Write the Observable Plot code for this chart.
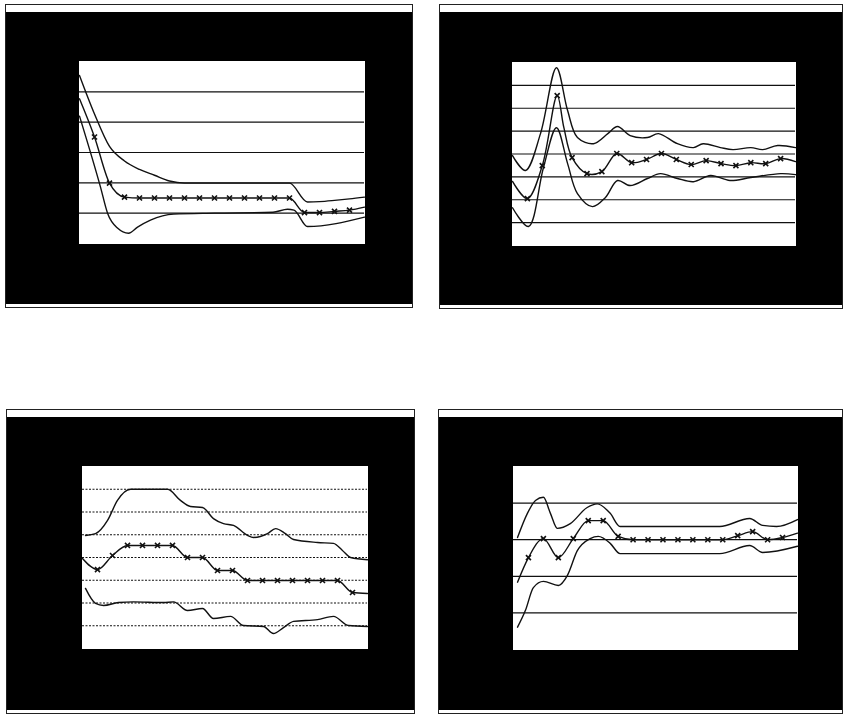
<!DOCTYPE html>
<html>
<head>
<meta charset="utf-8">
<script src="https://cdn.jsdelivr.net/npm/d3@7"></script>
<script src="https://cdn.jsdelivr.net/npm/@observablehq/plot@0.6"></script>
<style>
  html, body { margin: 0; padding: 0; background: #fff; width: 843px; height: 717px; overflow: hidden; }
  .panel { position: absolute; box-sizing: border-box; border: 1px solid #222; background: #fff; padding: 7px 0 3px 0; }
  .panel svg { display: block; }
</style>
</head>
<body>
<div id="root"></div>
<script>
// ---------- Data ----------
// x runs 0..19 in every panel; middle series carries "x" markers at whole steps.
const p1UpperX = [0, 1, 2, 3, 4, 5, 6, 7, 10, 13, 14, 15.2, 16, 17, 18, 19];
const p1UpperY = [5.54, 4.27, 3.2, 2.72, 2.44, 2.25, 2.06, 1.99, 1.99, 1.99, 1.99, 1.37, 1.38, 1.42, 1.47, 1.53];
const p1MidX = [0, 1, 2, 3, 4, 5, 6, 7, 8, 9, 10, 11, 12, 13, 14, 15, 16, 17, 18, 19];
const p1MidY = [4.77, 3.51, 1.99, 1.53, 1.5, 1.5, 1.5, 1.5, 1.5, 1.5, 1.5, 1.5, 1.5, 1.5, 1.5, 1.02, 1.02, 1.06, 1.1, 1.2];
const p1LowX = [0, 1.4, 1.87, 2.53, 3.27, 3.87, 4.73, 6.27, 9, 12.9, 13.87, 14.3, 15.2, 19];
const p1LowY = [4.2, 1.86, 1.0, 0.51, 0.34, 0.54, 0.77, 0.97, 1.0, 1.03, 1.13, 1.1, 0.56, 0.87];

const p2UpperX = [0, 0.87, 1.88, 2.95, 3.7, 4.36, 5.44, 6.4, 7.05, 7.9, 9.06, 9.8, 11.07, 12.15, 12.8, 13.96, 14.8, 16, 16.8, 17.8, 19];
const p2UpperY = [3.93, 3.28, 4.89, 7.77, 5.9, 4.72, 4.45, 4.89, 5.2, 4.8, 4.72, 4.89, 4.45, 4.28, 4.45, 4.28, 4.19, 4.28, 4.19, 4.37, 4.28];
const p2MidX = [0, 1, 2, 3, 3.45, 4, 5, 6, 7, 8, 9, 10, 11, 12, 13, 14, 15, 16, 17, 18, 19];
const p2MidY = [2.8, 2.05, 3.49, 6.55, 5.15, 3.84, 3.14, 3.23, 4.02, 3.62, 3.76, 4.02, 3.76, 3.54, 3.71, 3.58, 3.49, 3.62, 3.58, 3.8, 3.67];
const p2LowX = [0, 1.07, 2.08, 2.95, 3.7, 4.36, 5.37, 6.24, 7.05, 7.9, 9.06, 9.93, 11.07, 12.15, 13.3, 14.6, 16, 18, 19];
const p2LowY = [1.65, 0.83, 3.41, 5.15, 3.58, 2.27, 1.7, 2.1, 2.84, 2.62, 2.93, 3.14, 2.93, 2.79, 3.06, 2.84, 2.97, 3.14, 3.1];

const p3UpperX = [0.2, 0.87, 1.67, 2.33, 3.2, 5.67, 6.53, 7.2, 8, 8.73, 9.4, 10.07, 11, 11.4, 12.33, 12.87, 13.53, 14.07, 15.67, 16.73, 17.33, 17.87, 19];
const p3UpperY = [4.97, 5.05, 5.63, 6.51, 7.0, 7.0, 6.51, 6.24, 6.2, 5.71, 5.49, 5.41, 4.97, 4.88, 5.05, 5.27, 5.05, 4.79, 4.66, 4.62, 4.31, 4.0, 3.9];
const p3MidX = [0, 1, 2, 3, 4, 5, 6, 7, 8, 9, 10, 11, 12, 13, 14, 15, 16, 17, 18, 19];
const p3MidY = [3.96, 3.47, 4.09, 4.53, 4.53, 4.53, 4.53, 4.0, 4.0, 3.43, 3.43, 2.99, 2.99, 2.99, 2.99, 2.99, 2.99, 2.99, 2.46, 2.42];
const p3LowX = [0.2, 0.87, 1.4, 2.4, 3.4, 5.4, 6.07, 7, 8, 8.73, 9.87, 10.73, 12.07, 12.73, 13.4, 14.07, 15.67, 16.73, 17.73, 19];
const p3LowY = [2.64, 1.98, 1.89, 2.02, 2.05, 2.02, 2.05, 1.67, 1.76, 1.32, 1.41, 1.01, 0.97, 0.66, 0.92, 1.19, 1.27, 1.41, 1.01, 0.97];

const p4UpperX = [0.27, 0.93, 1.47, 2, 2.47, 2.93, 3.8, 4.93, 5.6, 6.47, 7.13, 13.8, 15.8, 16.67, 17.6, 19];
const p4UpperY = [3.06, 3.72, 4.07, 4.16, 3.72, 3.31, 3.44, 3.88, 3.98, 3.72, 3.36, 3.36, 3.58, 3.39, 3.36, 3.55];
const p4MidX = [0.27, 1, 2, 3, 4, 5, 6, 7, 8, 9, 10, 11, 12, 13, 14, 15, 16, 17, 18, 19];
const p4MidY = [1.84, 2.51, 3.03, 2.51, 3.03, 3.52, 3.52, 3.09, 3.0, 3.0, 3.0, 3.0, 3.0, 3.0, 3.0, 3.11, 3.22, 3.0, 3.06, 3.18];
const p4LowX = [0.27, 0.8, 1.33, 2, 3, 3.6, 4.27, 5.13, 5.67, 6.47, 7.13, 13.8, 15.8, 16.67, 19];
const p4LowY = [0.61, 1.07, 1.69, 1.86, 1.75, 2.02, 2.7, 3.03, 3.09, 2.9, 2.62, 2.62, 2.84, 2.65, 2.82];

const p1Grid = [1, 2, 3, 4, 5];
const p2Grid = [1, 2, 3, 4, 5, 6, 7];
const p3Grid = [1, 2, 3, 4, 5, 6, 7];
const p4Grid = [1, 2, 3, 4];

// ---------- Helpers ----------
const zip = (xs, ys) => xs.map((x, i) => ({x, y: ys[i]}));

function panel({box, area, yMax, grid, upper, mid, low, gridDash, curve}) {
  const div = document.createElement("div");
  div.className = "panel";
  div.style.left = box[0] + "px";
  div.style.top = box[1] + "px";
  div.style.width = (box[2] - box[0]) + "px";
  div.style.height = (box[3] - box[1]) + "px";
  const svgLeft = box[0] + 1, svgTop = box[1] + 1 + 7;
  const w = box[2] - box[0] - 2;
  const h = box[3] - box[1] - 2 - 7 - 3;
  const ink = "#111";
  const c = curve || "monotone-x";
  const chart = Plot.plot({
    width: w,
    height: h,
    marginLeft: area[0] - svgLeft,
    marginRight: (svgLeft + w) - area[2],
    marginTop: area[1] - svgTop,
    marginBottom: (svgTop + h) - area[3],
    x: {domain: [0, 19], axis: null},
    y: {domain: [0, yMax], axis: null},
    style: {background: "black", overflow: "hidden"},
    marks: [
      Plot.frame({fill: "white", stroke: "white"}),
      Plot.ruleY(grid, {stroke: ink, strokeWidth: 1.2, strokeDasharray: gridDash || null}),
      Plot.line(upper, {x: "x", y: "y", curve: c, stroke: ink, strokeWidth: 1.4}),
      Plot.line(mid, {x: "x", y: "y", curve: c, stroke: ink, strokeWidth: 1.4}),
      Plot.line(low, {x: "x", y: "y", curve: c, stroke: ink, strokeWidth: 1.4}),
      Plot.dot(mid.filter(d => Number.isInteger(d.x) && d.x > 0 && d.x < 19),
        {x: "x", y: "y", symbol: "times", r: 2.4, stroke: ink, strokeWidth: 1.6})
    ]
  });
  div.appendChild(chart);
  document.getElementById("root").appendChild(div);
}

panel({box: [5, 4, 413, 308], area: [79, 61, 364, 243], yMax: 6, grid: p1Grid,
  upper: zip(p1UpperX, p1UpperY), mid: zip(p1MidX, p1MidY), low: zip(p1LowX, p1LowY)});
panel({box: [439, 4, 843, 309], area: [512, 62, 795, 245], yMax: 8, grid: p2Grid, curve: "catmull-rom",
  upper: zip(p2UpperX, p2UpperY), mid: zip(p2MidX, p2MidY), low: zip(p2LowX, p2LowY)});
panel({box: [6, 409, 415, 714], area: [82, 466, 367, 648], yMax: 8, grid: p3Grid, gridDash: "2,1.5",
  upper: zip(p3UpperX, p3UpperY), mid: zip(p3MidX, p3MidY), low: zip(p3LowX, p3LowY)});
panel({box: [438, 409, 843, 714], area: [513, 466, 797, 649], yMax: 5, grid: p4Grid,
  upper: zip(p4UpperX, p4UpperY), mid: zip(p4MidX, p4MidY), low: zip(p4LowX, p4LowY)});
</script>
</body>
</html>
